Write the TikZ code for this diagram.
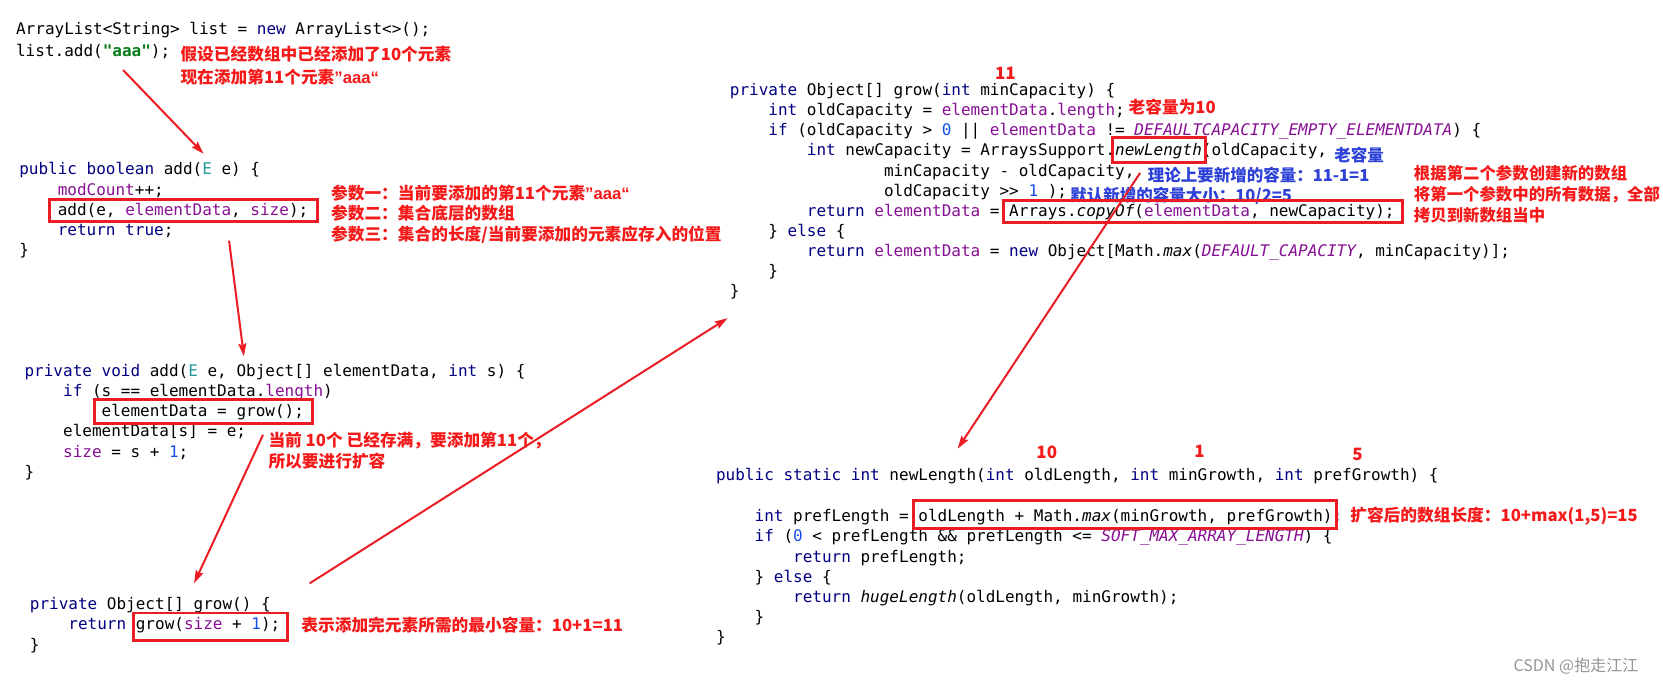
\documentclass[tikz,border=0pt]{standalone}
\usepackage{fontspec}
\setmainfont{Noto Sans CJK SC}
\setmonofont{DejaVu Sans Mono}
\newfontfamily\cjk{Noto Sans CJK SC}
\newfontfamily\qfont{Liberation Sans}
\usetikzlibrary{arrows.meta}
\definecolor{kwc}{RGB}{0,0,130}
\definecolor{fdc}{RGB}{135,16,148}
\definecolor{nmc}{RGB}{23,80,235}
\definecolor{tpc}{RGB}{32,153,157}
\definecolor{stc}{RGB}{6,125,23}
\definecolor{annred}{RGB}{245,25,25}
\definecolor{boxred}{RGB}{235,28,36}
\definecolor{annblue}{RGB}{45,65,215}
\definecolor{wmgray}{RGB}{150,150,150}
\newcommand\jkw[1]{\textcolor{kwc}{#1}}
\newcommand\jfd[1]{\textcolor{fdc}{#1}}
\newcommand\jnm[1]{\textcolor{nmc}{#1}}
\newcommand\jcs[1]{\textcolor{fdc}{\itshape #1}}
\newcommand\jit[1]{{\itshape #1}}
\newcommand\jtp[1]{\textcolor{tpc}{#1}}
\newcommand\jst[1]{\textcolor{stc}{\bfseries #1}}
\newcommand\jq[1]{{\qfont\bfseries #1}}
\newlength\jcw
\setlength\jcw{9.633pt}
\newcommand\jind[1]{\hspace*{#1\jcw}}
\tikzset{
  code/.style={anchor=base west, inner sep=0pt, font=\ttfamily\fontsize{16}{19}\selectfont},
  ann/.style={anchor=base west, inner sep=0pt, text=annred, font=\cjk\bfseries\fontsize{16.7}{20}\selectfont},
  annr/.style={anchor=base west, inner sep=0pt, text=annred, font=\cjk\bfseries\fontsize{16.4}{20}\selectfont},
  annnum/.style={anchor=base, inner sep=0pt, text=annred, font=\cjk\bfseries\fontsize{17}{20}\selectfont},
  blu/.style={anchor=base west, inner sep=0pt, text=annblue, font=\cjk\bfseries\fontsize{16.5}{20}\selectfont},
  wm/.style={anchor=base west, inner sep=0pt, text=wmgray, font=\cjk\fontsize{16}{18}\selectfont},
  hl/.style={draw=boxred, line width=2.8pt},
  arr/.style={draw=boxred, line width=2pt, -{Stealth[length=13pt,width=8pt,inset=2pt]}},
}
\begin{document}
\begin{tikzpicture}[x=1.0606pt,y=-1.0606pt]
\useasboundingbox (0,0) rectangle (1568,644);
\fill[white] (0,0) rectangle (1568,644);

% Block A
\node[code] (a1) at (15,33) {ArrayList<String> list = \jkw{new} ArrayList<>();};
\node[code] (a2) at (15,53) {list.add(\jst{"aaa"});};
\node[ann] (t1) at (170,57) {假设已经数组中已经添加了10个元素};
\node[ann] (t2) at (170,79) {现在添加第11个元素\jq{”aaa“}};

% Block B
\node[code] (b1) at (18,165) {\jkw{public boolean} add(\jtp{E} e) \{};
\node[code] (b2) at (18,184) {\jind{4}\jfd{modCount}++;};
\node[code] (b3) at (18,203) {\jind{4}add(e, \jfd{elementData}, \jfd{size});};
\node[code] (b4) at (18,222) {\jind{4}\jkw{return true};};
\node[code] (b5) at (18,241) {\}};
\node[ann] (t3) at (312,188) {参数一：当前要添加的第11个元素\jq{”aaa“}};
\node[ann] (t4) at (312,207) {参数二：集合底层的数组};
\node[ann] (t5) at (312,227) {参数三：集合的长度/当前要添加的元素应存入的位置};

% Block C
\node[code] (c1) at (23,355) {\jkw{private void} add(\jtp{E} e, Object[] elementData, \jkw{int} s) \{};
\node[code] (c2) at (23,374) {\jind{4}\jkw{if} (s == elementData.\jfd{length})};
\node[code] (c3) at (23,393) {\jind{8}elementData = grow();};
\node[code] (c4) at (23,412) {\jind{4}elementData[s] = e;};
\node[code] (c5) at (23,431) {\jind{4}\jfd{size} = s + \jnm{1};};
\node[code] (c6) at (23,450) {\}};
\node[ann] (t6) at (253,421) {当前 10个 已经存满，要添加第11个，};
\node[ann] (t7) at (253,441) {所以要进行扩容};

% Block D
\node[code] (d1) at (28,575) {\jkw{private} Object[] grow() \{};
\node[code] (d2) at (28,594) {\jind{4}\jkw{return} grow(\jfd{size} + \jnm{1});};
\node[code] (d3) at (28,613) {\}};
\node[ann] (t8) at (284,595) {表示添加完元素所需的最小容量：10+1=11};

% Block E
\node[annnum] (n11) at (948,75) {11};
\node[code] (e1) at (688,90) {\jkw{private} Object[] grow(\jkw{int} minCapacity) \{};
\node[code] (e2) at (688,109) {\jind{4}\jkw{int} oldCapacity = \jfd{elementData}.\jfd{length};};
\node[code] (e3) at (688,128) {\jind{4}\jkw{if} (oldCapacity > \jnm{0} || \jfd{elementData} != \jcs{DEFAULTCAPACITY\_EMPTY\_ELEMENTDATA}) \{};
\node[code] (e4) at (688,147) {\jind{8}\jkw{int} newCapacity = ArraysSupport.\jit{newLength}(oldCapacity,};
\node[code] (e5) at (688,166) {\jind{16}minCapacity - oldCapacity,};
\node[code] (e6) at (688,185) {\jind{16}oldCapacity >> \jnm{1} );};
\node[code] (e7) at (688,204) {\jind{8}\jkw{return} \jfd{elementData} = Arrays.\jit{copyOf}(\jfd{elementData}, newCapacity);};
\node[code] (e8) at (688,223) {\jind{4}\} \jkw{else} \{};
\node[code] (e9) at (688,242) {\jind{8}\jkw{return} \jfd{elementData} = \jkw{new} Object[Math.\jit{max}(\jcs{DEFAULT\_CAPACITY}, minCapacity)];};
\node[code] (e10) at (688,261) {\jind{4}\}};
\node[code] (e11) at (688,280) {\}};
\node[ann] (t9) at (1064,107) {老容量为10};
\node[blu] (u1) at (1258,152) {老容量};
\node[blu] (u2) at (1082,171) {理论上要新增的容量：11-1=1};
\node[blu] (u3) at (1009,190) {默认新增的容量大小：10/2=5};
\node[annr] (r1) at (1333,169) {根据第二个参数创建新的数组};
\node[annr] (r2) at (1333,189) {将第一个参数中的所有数据，全部};
\node[annr] (r3) at (1333,209) {拷贝到新数组当中};

% Block F
\node[annnum] (n10) at (987,432) {10};
\node[annnum] (n1) at (1131,431) {1};
\node[annnum] (n5) at (1280,434) {5};
\node[code] (f1) at (675,453) {\jkw{public static int} newLength(\jkw{int} oldLength, \jkw{int} minGrowth, \jkw{int} prefGrowth) \{};
\node[code] (f2) at (675,492) {\jind{4}\jkw{int} prefLength = oldLength + Math.\jit{max}(minGrowth, prefGrowth);};
\node[code] (f3) at (675,511) {\jind{4}\jkw{if} (\jnm{0} < prefLength \&\& prefLength <= \jcs{SOFT\_MAX\_ARRAY\_LENGTH}) \{};
\node[code] (f4) at (675,530) {\jind{8}\jkw{return} prefLength;};
\node[code] (f5) at (675,549) {\jind{4}\} \jkw{else} \{};
\node[code] (f6) at (675,568) {\jind{8}\jkw{return} \jit{hugeLength}(oldLength, minGrowth);};
\node[code] (f7) at (675,587) {\jind{4}\}};
\node[code] (f8) at (675,606) {\}};
\node[ann] (t10) at (1273,492) {扩容后的数组长度：10+max(1,5)=15};

\node[wm] (wm) at (1427,633) {CSDN @抱走江江};

% highlight boxes
\draw[hl] (47,188) rectangle (299,209);
\draw[hl] (89,377) rectangle (295,399);
\draw[hl] (126,578) rectangle (271,604);
\draw[hl] (1049,130) rectangle (1137,153);
\draw[hl] (946,189) rectangle (1322,210);
\draw[hl] (861,472) rectangle (1260,498);

% arrows
\coordinate (p1) at (116,66);  \coordinate (q1) at (192,145);
\coordinate (p2) at (216,227); \coordinate (q2) at (230,336);
\coordinate (p3) at (248,410); \coordinate (q3) at (183,550);
\coordinate (p4) at (292,550); \coordinate (q4) at (686,300);
\coordinate (p5) at (1075,163); \coordinate (q5) at (903,423);
\draw[arr] (p1) -- (q1);
\draw[arr] (p2) -- (q2);
\draw[arr] (p3) -- (q3);
\draw[arr] (p4) -- (q4);
\draw[arr] (p5) -- (q5);
\end{tikzpicture}
\end{document}
